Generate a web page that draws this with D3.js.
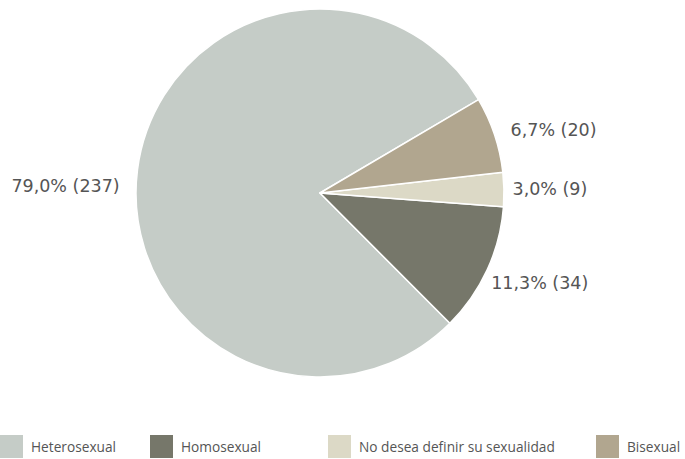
<!DOCTYPE html>
<html>
<head>
<meta charset="utf-8">
<script src="https://cdn.jsdelivr.net/npm/d3@7"></script>
<style>
  html, body { margin: 0; padding: 0; background: #fff; }
  svg { display: block; font-family: "Open Sans", "Noto Sans", sans-serif; }
</style>
</head>
<body>
<svg id="chart" width="685" height="459"></svg>
<script>
// Orientación sexual declarada (n = 300)
const categories = ["Heterosexual", "Homosexual", "No desea definir su sexualidad", "Bisexual"];
const counts = [237, 34, 9, 20];
const percentLabels = ["79,0%", "11,3%", "3,0%", "6,7%"];
const colors = ["#c5ccc7", "#76776a", "#dcd9c6", "#b1a68f"];

const svg = d3.select("#chart");
const cx = 320, cy = 193, R = 184;

// Slices run counter-clockwise from the upper right
const start = 59.5 * Math.PI / 180;
const pie = d3.pie().sort(null).value(d => d)
  .startAngle(start + 2 * Math.PI).endAngle(start);
const arcs = pie(counts);
const arc = d3.arc().innerRadius(0).outerRadius(R);

const g = svg.append("g").attr("transform", `translate(${cx},${cy})`);
g.selectAll("path.slice").data(arcs).enter().append("path")
  .attr("class", "slice")
  .attr("d", arc)
  .attr("fill", (d, i) => colors[i])
  .attr("stroke", "#fff")
  .attr("stroke-width", 1.5)
  .attr("stroke-linejoin", "round");

// Value labels outside the pie
const labelR = R + 16;
g.selectAll("text.val").data(arcs).enter().append("text")
  .attr("class", "val")
  .each(function (d) {
    const a = (d.startAngle + d.endAngle) / 2;
    const sx = Math.sin(a), sy = -Math.cos(a);
    let x = sx * labelR, y = sy * labelR;
    if (sx < -0.9) y = y * 0.3; // wide left slice: keep label near the horizontal axis
    d3.select(this)
      .attr("x", sx >= 0 ? x - 8 + 28 * Math.max(0, -sy) - 6 * Math.max(0, sy) : x - 2)
      .attr("y", y + (sy > 0.3 ? 6 : 0))
      .attr("dy", "0.35em")
      .attr("text-anchor", sx >= 0 ? "start" : "end");
  })
  .attr("fill", "#555")
  .attr("font-family", "'DejaVu Sans', sans-serif")
  .attr("font-size", "17.5px")
  .text((d, i) => `${percentLabels[i]} (${counts[i]})`);

// Legend along the bottom
const legendX = [0, 150, 328, 596];
const legend = svg.append("g").attr("transform", "translate(0,435)");
const items = legend.selectAll("g.item").data(categories).enter().append("g")
  .attr("class", "item")
  .attr("transform", (d, i) => `translate(${legendX[i]},0)`);
items.append("rect")
  .attr("width", 23).attr("height", 23)
  .attr("fill", (d, i) => colors[i]);
items.append("text")
  .attr("x", 31).attr("y", 12.5).attr("dy", "0.35em")
  .attr("fill", "#555")
  .attr("font-size", "13.7px")
  .text(d => d);
</script>
</body>
</html>
